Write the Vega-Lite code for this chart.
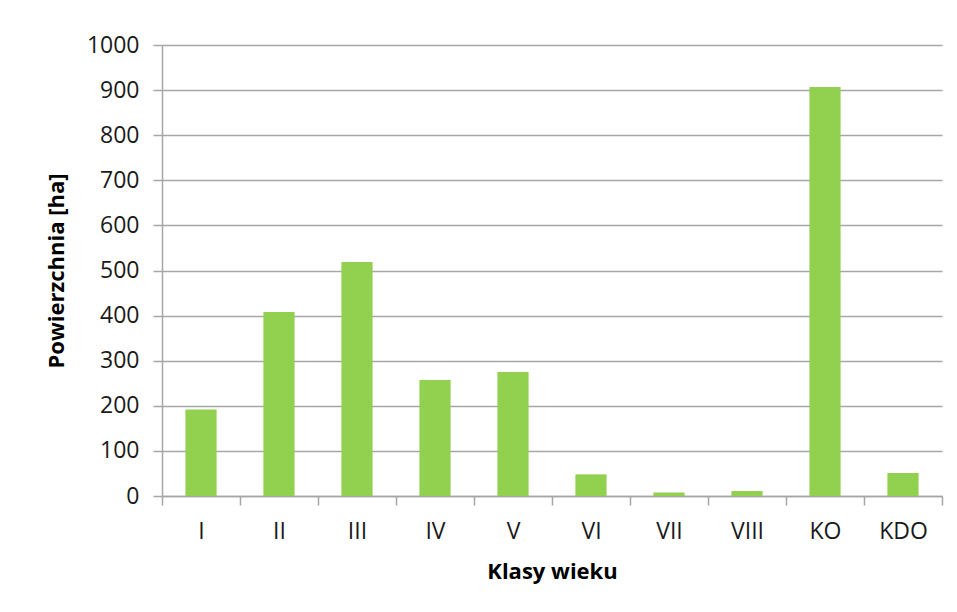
{
  "$schema": "https://vega.github.io/schema/vega-lite/v6.json",
  "width": 780,
  "height": 451,
  "autosize": {"type": "none"},
  "padding": {"left": 162, "top": 45, "right": 15, "bottom": 116},
  "background": "white",
  "config": {
    "view": {"stroke": null},
    "font": "Open Sans",
    "axis": {
      "labelFont": "Open Sans",
      "labelFontSize": 23,
      "labelColor": "#1a1a1a",
      "titleFont": "Open Sans",
      "titleFontSize": 22,
      "titleFontWeight": "bold",
      "titleColor": "#000000",
      "domainColor": "#a6a6a6",
      "tickColor": "#a6a6a6",
      "gridColor": "#a6a6a6",
      "domainWidth": 1.5,
      "gridWidth": 1.5,
      "tickWidth": 1.5
    }
  },
  "data": {
    "values": [
      {"klasa": "I", "pow": 192},
      {"klasa": "II", "pow": 408},
      {"klasa": "III", "pow": 519},
      {"klasa": "IV", "pow": 257},
      {"klasa": "V", "pow": 275},
      {"klasa": "VI", "pow": 48},
      {"klasa": "VII", "pow": 8},
      {"klasa": "VIII", "pow": 11},
      {"klasa": "KO", "pow": 907},
      {"klasa": "KDO", "pow": 51}
    ]
  },
  "mark": {"type": "bar", "color": "#92d050", "width": {"band": 0.4}},
  "encoding": {
    "x": {
      "field": "klasa",
      "type": "nominal",
      "sort": null,
      "scale": {"paddingInner": 0, "paddingOuter": 0},
      "axis": {
        "title": "Klasy wieku",
        "labelAngle": 0,
        "tickBand": "extent",
        "tickSize": 9,
        "labelPadding": 15,
        "titlePadding": 18,
        "grid": false
      }
    },
    "y": {
      "field": "pow",
      "type": "quantitative",
      "scale": {"domain": [0, 1000], "nice": false},
      "axis": {
        "title": "Powierzchnia [ha]",
        "format": "d",
        "values": [0, 100, 200, 300, 400, 500, 600, 700, 800, 900, 1000],
        "tickSize": 9,
        "labelPadding": 14,
        "titlePadding": 18,
        "grid": true
      }
    }
  }
}
